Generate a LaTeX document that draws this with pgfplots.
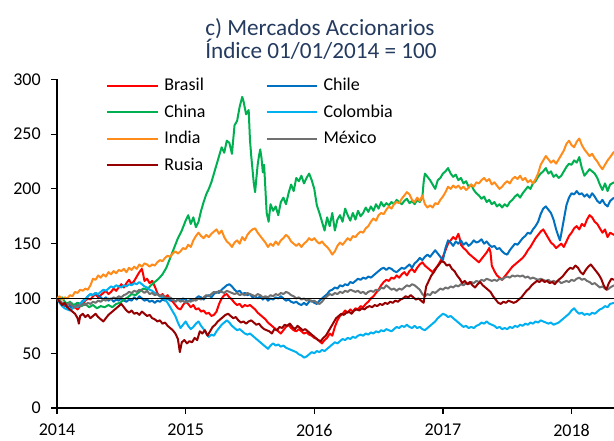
\documentclass[border=0pt]{standalone}
\usepackage{pgfplots}
\usepackage{pgfplotstable}
\pgfplotsset{compat=1.18}
\usepackage{fontspec}
\setmainfont{Carlito}
\definecolor{cBrasil}{HTML}{FF0000}
\definecolor{cChile}{HTML}{0070C0}
\definecolor{cChina}{HTML}{00B050}
\definecolor{cColombia}{HTML}{00B0F0}
\definecolor{cIndia}{HTML}{FF8C1A}
\definecolor{cMexico}{HTML}{707070}
\definecolor{cRusia}{HTML}{960000}
\definecolor{cTitle}{HTML}{243A5E}

\pgfplotstableread{
x y
2014.00 100
2014.02 97
2014.04 95
2014.06 93
2014.08 96
2014.10 94
2014.12 91
2014.14 92
2014.16 90
2014.18 93
2014.20 95
2014.22 98
2014.24 100
2014.26 99
2014.28 102
2014.30 104
2014.32 101
2014.34 103
2014.36 105
2014.38 107
2014.40 104
2014.42 106
2014.44 109
2014.46 107
2014.48 110
2014.50 113
2014.52 110
2014.54 114
2014.56 117
2014.58 113
2014.60 116
2014.62 120
2014.64 124
2014.66 127
2014.67 122
2014.68 116
2014.70 118
2014.72 114
2014.74 116
2014.76 111
2014.78 105
2014.80 102
2014.82 104
2014.84 101
2014.86 103
2014.88 99
2014.90 97
2014.92 94
2014.94 91
2014.96 90
2014.98 94
2015.00 97
2015.02 95
2015.04 92
2015.06 94
2015.08 90
2015.10 91
2015.12 88
2015.14 89
2015.16 86
2015.18 87
2015.20 84
2015.22 85
2015.24 88
2015.26 95
2015.28 100
2015.30 103
2015.32 104
2015.34 101
2015.36 99
2015.38 96
2015.40 94
2015.42 95
2015.44 92
2015.46 94
2015.48 93
2015.50 94
2015.52 92
2015.54 90
2015.56 87
2015.58 85
2015.60 83
2015.62 81
2015.64 78
2015.66 76
2015.68 74
2015.70 72
2015.72 70
2015.74 68
2015.76 71
2015.78 74
2015.80 76
2015.82 73
2015.84 71
2015.86 70
2015.88 72
2015.90 70
2015.92 68
2015.94 69
2015.96 67
2015.98 66
2016.00 64
2016.02 63
2016.04 61
2016.06 59
2016.08 62
2016.10 64
2016.12 68
2016.14 66
2016.16 74
2016.18 80
2016.20 84
2016.22 86
2016.24 89
2016.26 87
2016.28 90
2016.30 88
2016.32 91
2016.34 90
2016.36 93
2016.38 92
2016.40 95
2016.42 97
2016.44 100
2016.46 102
2016.48 105
2016.50 108
2016.52 112
2016.54 115
2016.56 117
2016.58 116
2016.60 119
2016.62 118
2016.64 121
2016.66 119
2016.68 122
2016.70 124
2016.72 121
2016.74 125
2016.76 127
2016.78 124
2016.80 128
2016.82 131
2016.84 133
2016.86 130
2016.88 128
2016.90 126
2016.92 124
2016.94 127
2016.96 130
2016.98 134
2017.00 138
2017.02 144
2017.04 150
2017.06 153
2017.08 156
2017.10 154
2017.12 159
2017.13 155
2017.14 149
2017.16 146
2017.18 144
2017.20 141
2017.22 139
2017.24 137
2017.26 135
2017.28 133
2017.30 136
2017.32 139
2017.34 142
2017.36 146
2017.37 142
2017.38 130
2017.40 125
2017.42 121
2017.44 119
2017.46 117
2017.48 120
2017.50 123
2017.52 126
2017.54 129
2017.56 131
2017.58 133
2017.60 135
2017.62 137
2017.64 140
2017.66 144
2017.68 147
2017.70 151
2017.72 155
2017.74 158
2017.76 161
2017.78 163
2017.80 159
2017.82 155
2017.84 151
2017.86 149
2017.88 146
2017.90 148
2017.92 150
2017.94 147
2017.96 152
2017.98 157
2018.00 160
2018.02 164
2018.04 166
2018.06 163
2018.08 168
2018.10 166
2018.12 172
2018.14 176
2018.16 174
2018.18 170
2018.20 168
2018.22 164
2018.24 160
2018.26 163
2018.28 156
2018.30 160
2018.33 158
}\Brasil

\pgfplotstableread{
x y
2014.00 100
2014.02 98
2014.04 96
2014.06 94
2014.08 92
2014.10 93
2014.12 91
2014.14 94
2014.16 96
2014.18 95
2014.20 98
2014.22 99
2014.24 102
2014.26 104
2014.28 103
2014.30 105
2014.32 103
2014.34 101
2014.36 99
2014.38 101
2014.40 98
2014.42 100
2014.44 97
2014.46 99
2014.48 98
2014.50 100
2014.52 98
2014.54 97
2014.56 99
2014.58 98
2014.60 101
2014.62 99
2014.64 102
2014.66 100
2014.68 98
2014.70 99
2014.72 97
2014.74 98
2014.76 96
2014.78 98
2014.80 97
2014.82 99
2014.84 98
2014.86 100
2014.88 98
2014.90 99
2014.92 97
2014.94 99
2014.96 98
2014.98 100
2015.00 99
2015.02 97
2015.04 99
2015.06 98
2015.08 100
2015.10 102
2015.12 101
2015.14 99
2015.16 102
2015.18 103
2015.20 101
2015.22 104
2015.24 106
2015.26 105
2015.28 108
2015.30 110
2015.32 112
2015.34 113
2015.36 111
2015.38 108
2015.40 106
2015.42 107
2015.44 104
2015.46 105
2015.48 103
2015.50 104
2015.52 101
2015.54 102
2015.56 100
2015.58 102
2015.60 99
2015.62 101
2015.64 98
2015.66 100
2015.68 99
2015.70 101
2015.72 100
2015.74 102
2015.76 100
2015.78 98
2015.80 99
2015.82 97
2015.84 96
2015.86 97
2015.88 95
2015.90 94
2015.92 96
2015.94 94
2015.96 97
2015.98 98
2016.00 96
2016.02 95
2016.04 98
2016.06 100
2016.08 102
2016.10 104
2016.12 107
2016.14 108
2016.16 110
2016.18 109
2016.20 112
2016.22 111
2016.24 113
2016.26 112
2016.28 115
2016.30 114
2016.32 116
2016.34 118
2016.36 117
2016.38 119
2016.40 118
2016.42 120
2016.44 119
2016.46 121
2016.48 123
2016.50 125
2016.52 127
2016.54 128
2016.56 126
2016.58 128
2016.60 127
2016.62 125
2016.64 124
2016.66 126
2016.68 128
2016.70 127
2016.72 129
2016.74 131
2016.76 128
2016.78 132
2016.80 134
2016.82 137
2016.84 135
2016.86 138
2016.88 140
2016.90 138
2016.92 141
2016.94 144
2016.96 141
2016.98 138
2017.00 135
2017.02 146
2017.04 153
2017.06 151
2017.08 148
2017.10 152
2017.12 150
2017.14 153
2017.16 149
2017.18 151
2017.20 148
2017.22 150
2017.24 153
2017.26 151
2017.28 152
2017.30 154
2017.32 150
2017.34 152
2017.36 149
2017.38 147
2017.40 148
2017.42 145
2017.44 146
2017.46 143
2017.48 141
2017.50 140
2017.52 144
2017.54 147
2017.56 150
2017.58 149
2017.60 152
2017.62 155
2017.64 157
2017.66 160
2017.68 159
2017.70 163
2017.72 166
2017.74 170
2017.76 177
2017.78 182
2017.80 184
2017.82 181
2017.84 178
2017.86 172
2017.88 163
2017.90 156
2017.91 153
2017.92 159
2017.94 172
2017.96 185
2017.98 192
2018.00 196
2018.02 195
2018.04 198
2018.06 195
2018.08 196
2018.10 193
2018.12 195
2018.14 192
2018.16 196
2018.18 193
2018.20 189
2018.22 187
2018.24 190
2018.26 186
2018.28 184
2018.30 189
2018.33 192
}\Chile

\pgfplotstableread{
x y
2014.00 100
2014.02 98
2014.04 101
2014.06 97
2014.08 95
2014.10 97
2014.13 94
2014.16 96
2014.19 93
2014.22 95
2014.25 92
2014.28 94
2014.31 91
2014.34 93
2014.37 92
2014.40 94
2014.43 92
2014.46 95
2014.49 96
2014.52 99
2014.55 101
2014.58 104
2014.61 103
2014.64 106
2014.67 109
2014.70 108
2014.73 112
2014.76 115
2014.79 118
2014.82 122
2014.85 128
2014.88 137
2014.91 146
2014.94 155
2014.97 162
2015.00 171
2015.02 176
2015.04 168
2015.06 174
2015.08 165
2015.10 170
2015.12 180
2015.14 188
2015.16 195
2015.18 200
2015.20 206
2015.22 214
2015.24 222
2015.26 230
2015.28 238
2015.30 233
2015.32 244
2015.34 242
2015.36 232
2015.38 258
2015.40 262
2015.42 275
2015.44 284
2015.45 280
2015.47 268
2015.49 272
2015.50 245
2015.51 230
2015.53 205
2015.54 197
2015.55 210
2015.56 222
2015.57 230
2015.58 236
2015.59 228
2015.60 215
2015.61 222
2015.62 200
2015.63 178
2015.645 170
2015.66 186
2015.68 180
2015.70 184
2015.72 176
2015.74 188
2015.76 192
2015.78 186
2015.80 196
2015.82 204
2015.84 198
2015.86 210
2015.88 207
2015.90 212
2015.92 205
2015.94 210
2015.96 214
2015.98 208
2016.00 200
2016.02 185
2016.04 178
2016.06 170
2016.08 162
2016.10 174
2016.12 166
2016.14 178
2016.16 162
2016.18 172
2016.20 176
2016.22 170
2016.24 182
2016.26 176
2016.28 171
2016.30 178
2016.32 172
2016.34 180
2016.36 175
2016.38 178
2016.40 183
2016.42 179
2016.44 184
2016.46 180
2016.48 186
2016.50 182
2016.52 188
2016.54 184
2016.56 187
2016.58 185
2016.60 188
2016.62 186
2016.64 190
2016.66 188
2016.68 186
2016.70 189
2016.72 191
2016.74 187
2016.76 189
2016.78 186
2016.80 190
2016.82 188
2016.84 192
2016.85 206
2016.86 214
2016.88 211
2016.90 208
2016.92 204
2016.94 200
2016.96 208
2016.98 210
2017.00 214
2017.02 216
2017.04 219
2017.06 214
2017.08 211
2017.10 213
2017.12 208
2017.14 210
2017.16 205
2017.18 207
2017.20 202
2017.22 204
2017.24 199
2017.26 196
2017.28 194
2017.30 191
2017.32 193
2017.34 188
2017.36 190
2017.38 186
2017.40 188
2017.42 184
2017.44 186
2017.46 183
2017.48 186
2017.50 184
2017.52 188
2017.54 190
2017.56 193
2017.58 195
2017.60 192
2017.62 196
2017.64 199
2017.66 202
2017.68 200
2017.70 205
2017.72 207
2017.74 211
2017.76 214
2017.78 216
2017.80 219
2017.82 214
2017.84 216
2017.86 211
2017.88 213
2017.90 210
2017.92 212
2017.94 216
2017.96 220
2017.98 223
2018.00 222
2018.02 226
2018.04 224
2018.06 229
2018.08 219
2018.10 212
2018.12 215
2018.14 218
2018.16 216
2018.18 214
2018.20 210
2018.22 204
2018.24 199
2018.26 205
2018.28 198
2018.30 204
2018.33 206
}\China

\pgfplotstableread{
x y
2014.00 100
2014.02 96
2014.04 93
2014.06 91
2014.08 90
2014.10 89
2014.12 91
2014.14 93
2014.16 92
2014.18 95
2014.20 97
2014.22 99
2014.24 102
2014.26 104
2014.28 103
2014.30 105
2014.32 104
2014.34 106
2014.36 108
2014.38 107
2014.40 109
2014.42 111
2014.44 110
2014.46 112
2014.48 111
2014.50 110
2014.52 112
2014.54 111
2014.56 113
2014.58 112
2014.60 114
2014.62 113
2014.64 115
2014.66 113
2014.68 111
2014.70 110
2014.72 108
2014.74 107
2014.76 105
2014.78 104
2014.80 102
2014.82 101
2014.84 99
2014.86 96
2014.88 92
2014.90 88
2014.92 84
2014.94 78
2014.96 73
2014.98 76
2015.00 79
2015.02 75
2015.04 72
2015.06 74
2015.08 77
2015.10 79
2015.12 75
2015.14 72
2015.16 68
2015.18 65
2015.20 67
2015.22 66
2015.24 70
2015.26 73
2015.28 76
2015.30 78
2015.32 80
2015.34 78
2015.36 75
2015.38 73
2015.40 71
2015.42 72
2015.44 70
2015.46 68
2015.48 67
2015.50 68
2015.52 66
2015.54 64
2015.56 62
2015.58 60
2015.60 58
2015.62 56
2015.64 54
2015.66 57
2015.68 59
2015.70 57
2015.72 58
2015.74 56
2015.76 57
2015.78 55
2015.80 54
2015.82 53
2015.84 52
2015.86 51
2015.88 49
2015.90 48
2015.92 46
2015.94 47
2015.96 49
2015.98 51
2016.00 50
2016.02 52
2016.04 51
2016.06 53
2016.08 52
2016.10 54
2016.12 56
2016.14 58
2016.16 60
2016.18 59
2016.20 61
2016.22 63
2016.24 62
2016.26 64
2016.28 63
2016.30 65
2016.32 64
2016.34 66
2016.36 67
2016.38 66
2016.40 68
2016.42 67
2016.44 69
2016.46 68
2016.48 70
2016.50 69
2016.52 71
2016.54 70
2016.56 72
2016.58 71
2016.60 70
2016.62 72
2016.64 74
2016.66 73
2016.68 75
2016.70 74
2016.72 76
2016.74 74
2016.76 73
2016.78 75
2016.80 73
2016.82 74
2016.84 72
2016.86 71
2016.88 73
2016.90 75
2016.92 77
2016.94 79
2016.96 82
2016.98 84
2017.00 86
2017.02 85
2017.04 83
2017.06 84
2017.08 82
2017.10 80
2017.12 78
2017.14 76
2017.16 74
2017.18 75
2017.20 73
2017.22 74
2017.24 73
2017.26 75
2017.28 76
2017.30 78
2017.32 77
2017.34 79
2017.36 77
2017.38 76
2017.40 75
2017.42 73
2017.44 74
2017.46 72
2017.48 73
2017.50 72
2017.52 74
2017.54 73
2017.56 75
2017.58 74
2017.60 76
2017.62 75
2017.64 77
2017.66 76
2017.68 78
2017.70 77
2017.72 79
2017.74 78
2017.76 80
2017.78 79
2017.80 78
2017.82 77
2017.84 78
2017.86 76
2017.88 77
2017.90 78
2017.92 80
2017.94 82
2017.96 84
2017.98 86
2018.00 89
2018.02 91
2018.04 88
2018.06 86
2018.08 87
2018.10 85
2018.12 86
2018.14 85
2018.16 87
2018.18 86
2018.20 88
2018.22 90
2018.24 91
2018.26 93
2018.28 92
2018.30 95
2018.33 96
}\Colombia

\pgfplotstableread{
x y
2014.00 100
2014.02 102
2014.04 99
2014.06 101
2014.08 100
2014.10 103
2014.12 102
2014.14 106
2014.16 105
2014.18 108
2014.20 107
2014.22 109
2014.24 108
2014.26 112
2014.28 118
2014.30 117
2014.32 121
2014.34 119
2014.36 122
2014.38 120
2014.40 124
2014.42 122
2014.44 125
2014.46 123
2014.48 126
2014.50 125
2014.52 127
2014.54 124
2014.56 128
2014.58 126
2014.60 129
2014.62 127
2014.64 131
2014.66 129
2014.68 132
2014.70 131
2014.72 129
2014.74 131
2014.76 130
2014.78 133
2014.80 135
2014.82 134
2014.84 137
2014.86 139
2014.88 138
2014.90 141
2014.92 143
2014.94 141
2014.96 143
2014.98 146
2015.00 145
2015.02 149
2015.04 147
2015.06 153
2015.08 157
2015.10 160
2015.12 157
2015.14 155
2015.16 158
2015.18 156
2015.20 159
2015.22 161
2015.24 163
2015.26 159
2015.28 162
2015.30 156
2015.32 152
2015.34 150
2015.36 147
2015.38 151
2015.40 153
2015.42 150
2015.44 156
2015.46 153
2015.48 158
2015.50 161
2015.52 163
2015.54 164
2015.56 160
2015.58 157
2015.60 154
2015.62 151
2015.64 147
2015.66 150
2015.68 148
2015.70 152
2015.72 149
2015.74 153
2015.76 155
2015.78 158
2015.80 156
2015.82 152
2015.84 150
2015.86 148
2015.88 150
2015.90 147
2015.92 150
2015.94 152
2015.96 155
2015.98 153
2016.00 155
2016.02 152
2016.04 150
2016.06 152
2016.08 149
2016.10 147
2016.12 144
2016.14 140
2016.16 143
2016.18 148
2016.20 151
2016.22 149
2016.24 152
2016.26 155
2016.28 153
2016.30 157
2016.32 156
2016.34 159
2016.36 161
2016.38 160
2016.40 164
2016.42 166
2016.44 170
2016.46 173
2016.48 171
2016.50 176
2016.52 178
2016.54 177
2016.56 181
2016.58 184
2016.60 182
2016.62 186
2016.64 188
2016.66 187
2016.68 191
2016.70 194
2016.72 197
2016.74 195
2016.76 190
2016.78 188
2016.80 192
2016.82 189
2016.84 194
2016.86 186
2016.88 183
2016.90 185
2016.92 183
2016.94 187
2016.96 186
2016.98 190
2017.00 193
2017.02 197
2017.04 202
2017.06 200
2017.08 203
2017.10 201
2017.12 203
2017.14 200
2017.16 202
2017.18 199
2017.20 201
2017.22 204
2017.24 202
2017.26 206
2017.28 205
2017.30 208
2017.32 210
2017.34 207
2017.36 209
2017.38 204
2017.40 206
2017.42 203
2017.44 200
2017.46 202
2017.48 205
2017.50 207
2017.52 205
2017.54 209
2017.56 211
2017.58 209
2017.60 212
2017.62 208
2017.64 210
2017.66 206
2017.68 208
2017.70 205
2017.72 209
2017.74 214
2017.76 222
2017.78 226
2017.80 230
2017.82 227
2017.84 224
2017.86 226
2017.88 223
2017.90 227
2017.92 231
2017.94 235
2017.96 241
2017.98 244
2018.00 240
2018.02 238
2018.04 243
2018.06 246
2018.08 240
2018.10 236
2018.12 233
2018.14 230
2018.16 232
2018.18 228
2018.20 225
2018.22 221
2018.24 218
2018.26 222
2018.28 226
2018.30 229
2018.33 234
}\India

\pgfplotstableread{
x y
2014.00 100
2014.02 98
2014.04 96
2014.06 95
2014.08 94
2014.10 96
2014.12 93
2014.14 92
2014.16 94
2014.18 93
2014.20 95
2014.22 94
2014.24 96
2014.26 95
2014.28 97
2014.30 96
2014.32 98
2014.34 97
2014.36 99
2014.38 98
2014.40 100
2014.42 99
2014.44 101
2014.46 100
2014.48 102
2014.50 101
2014.52 103
2014.54 104
2014.56 106
2014.58 105
2014.60 107
2014.62 106
2014.64 108
2014.66 107
2014.68 105
2014.70 107
2014.72 104
2014.74 105
2014.76 103
2014.78 104
2014.80 102
2014.82 103
2014.84 101
2014.86 100
2014.88 101
2014.90 99
2014.92 97
2014.94 99
2014.96 97
2014.98 98
2015.00 96
2015.02 98
2015.04 97
2015.06 99
2015.08 98
2015.10 100
2015.12 99
2015.14 101
2015.16 103
2015.18 102
2015.20 104
2015.22 106
2015.24 105
2015.26 107
2015.28 106
2015.30 105
2015.32 107
2015.34 106
2015.36 105
2015.38 104
2015.40 105
2015.42 103
2015.44 104
2015.46 103
2015.48 105
2015.50 104
2015.52 103
2015.54 102
2015.56 104
2015.58 103
2015.60 101
2015.62 102
2015.64 101
2015.66 103
2015.68 102
2015.70 104
2015.72 103
2015.74 105
2015.76 104
2015.78 106
2015.80 105
2015.82 103
2015.84 102
2015.86 100
2015.88 101
2015.90 99
2015.92 100
2015.94 98
2015.96 99
2015.98 97
2016.00 98
2016.02 96
2016.04 95
2016.06 97
2016.08 100
2016.10 102
2016.12 104
2016.14 103
2016.16 105
2016.18 104
2016.20 106
2016.22 105
2016.24 107
2016.26 106
2016.28 108
2016.30 107
2016.32 106
2016.34 107
2016.36 105
2016.38 106
2016.40 104
2016.42 106
2016.44 107
2016.46 106
2016.48 108
2016.50 107
2016.52 110
2016.54 109
2016.56 112
2016.58 110
2016.60 108
2016.62 109
2016.64 107
2016.66 109
2016.68 108
2016.70 110
2016.72 112
2016.74 111
2016.76 113
2016.78 112
2016.80 110
2016.82 108
2016.84 104
2016.86 102
2016.88 104
2016.90 103
2016.92 106
2016.94 105
2016.96 107
2016.98 109
2017.00 108
2017.02 110
2017.04 109
2017.06 111
2017.08 110
2017.10 112
2017.12 111
2017.14 113
2017.16 112
2017.18 114
2017.20 113
2017.22 115
2017.24 114
2017.26 116
2017.28 115
2017.30 117
2017.32 116
2017.34 118
2017.36 117
2017.38 116
2017.40 117
2017.42 116
2017.44 118
2017.46 117
2017.48 119
2017.50 120
2017.52 119
2017.54 121
2017.56 120
2017.58 121
2017.60 120
2017.62 121
2017.64 119
2017.66 120
2017.68 118
2017.70 119
2017.72 118
2017.74 117
2017.76 118
2017.78 117
2017.80 116
2017.82 117
2017.84 115
2017.86 116
2017.88 115
2017.90 116
2017.92 114
2017.94 115
2017.96 116
2017.98 115
2018.00 117
2018.02 116
2018.04 118
2018.06 119
2018.08 117
2018.10 118
2018.12 116
2018.14 115
2018.16 113
2018.18 114
2018.20 112
2018.22 110
2018.24 111
2018.26 109
2018.28 108
2018.30 110
2018.33 112
}\Mexico

\pgfplotstableread{
x y
2014.00 100
2014.02 97
2014.04 94
2014.06 96
2014.08 92
2014.10 90
2014.12 88
2014.14 86
2014.16 82
2014.17 77
2014.18 84
2014.20 86
2014.22 83
2014.24 85
2014.26 82
2014.28 84
2014.30 86
2014.32 83
2014.34 81
2014.36 79
2014.38 82
2014.40 85
2014.42 87
2014.44 89
2014.46 91
2014.48 93
2014.50 95
2014.52 92
2014.54 89
2014.56 87
2014.58 89
2014.60 86
2014.62 87
2014.64 85
2014.66 88
2014.68 86
2014.70 84
2014.72 85
2014.74 82
2014.76 81
2014.78 79
2014.80 80
2014.82 77
2014.84 78
2014.86 75
2014.88 73
2014.90 71
2014.92 68
2014.94 63
2014.955 51
2014.97 60
2014.99 62
2015.01 59
2015.03 61
2015.05 60
2015.07 64
2015.09 62
2015.11 70
2015.13 68
2015.15 71
2015.17 66
2015.19 70
2015.21 74
2015.23 76
2015.25 79
2015.27 81
2015.29 83
2015.31 85
2015.33 86
2015.35 84
2015.37 82
2015.39 83
2015.41 80
2015.43 78
2015.45 79
2015.47 77
2015.49 79
2015.51 80
2015.53 78
2015.55 76
2015.57 77
2015.59 74
2015.61 72
2015.63 71
2015.65 70
2015.67 68
2015.69 72
2015.71 71
2015.73 74
2015.75 73
2015.77 76
2015.79 75
2015.81 77
2015.83 74
2015.85 72
2015.87 75
2015.89 73
2015.91 71
2015.93 72
2015.95 70
2015.97 68
2015.99 66
2016.01 64
2016.03 62
2016.05 61
2016.07 64
2016.09 66
2016.11 70
2016.13 74
2016.15 78
2016.17 82
2016.19 84
2016.21 86
2016.23 85
2016.25 87
2016.27 88
2016.29 86
2016.31 89
2016.33 90
2016.35 89
2016.37 91
2016.39 90
2016.41 92
2016.43 93
2016.45 92
2016.47 94
2016.49 93
2016.51 95
2016.53 94
2016.55 96
2016.57 95
2016.59 97
2016.61 96
2016.63 98
2016.65 97
2016.67 99
2016.69 100
2016.71 102
2016.73 101
2016.75 103
2016.77 101
2016.79 99
2016.81 100
2016.83 98
2016.85 96
2016.86 104
2016.87 111
2016.89 116
2016.91 121
2016.93 124
2016.95 128
2016.97 131
2016.99 134
2017.01 133
2017.03 130
2017.05 131
2017.07 127
2017.09 125
2017.11 121
2017.13 118
2017.15 114
2017.17 116
2017.19 113
2017.21 115
2017.23 112
2017.25 110
2017.27 113
2017.29 115
2017.31 112
2017.33 110
2017.35 108
2017.37 106
2017.39 102
2017.41 99
2017.43 96
2017.45 95
2017.47 97
2017.49 96
2017.51 98
2017.53 97
2017.55 96
2017.57 97
2017.59 99
2017.61 101
2017.63 104
2017.65 107
2017.67 109
2017.69 112
2017.71 114
2017.73 116
2017.75 115
2017.77 117
2017.79 115
2017.81 116
2017.83 114
2017.85 115
2017.87 113
2017.89 116
2017.91 118
2017.93 120
2017.95 123
2017.97 126
2017.99 128
2018.01 127
2018.03 130
2018.05 128
2018.07 124
2018.09 122
2018.11 126
2018.13 129
2018.15 131
2018.17 128
2018.19 125
2018.21 122
2018.23 118
2018.25 112
2018.27 108
2018.29 114
2018.31 118
2018.33 117
}\Rusia

\begin{document}
\begin{tikzpicture}
\useasboundingbox (-42.75pt,-24pt) rectangle (417.75pt,306pt);
\begin{axis}[
  at={(0,0)}, anchor=south west,
  scale only axis,
  width=417.75pt, height=246.5pt,
  xmin=2014, xmax=2018.33,
  ymin=0, ymax=300,
  xtick={2014,2015,2016,2017,2018},
  ytick={0,50,100,150,200,250,300},
  axis x line*=bottom, axis y line*=left,
  axis line style={line width=1pt, black},
  tick style={line width=0.9pt, black},
  major tick length=4.2pt,
  tick align=outside,
  xticklabel style={/pgf/number format/1000 sep={}, inner sep=0pt, yshift=-7.6pt},
  yticklabel style={xshift=-4.5pt},
  /pgf/number format/assume math mode=true,
  tick label style={font=\fontsize{13.5}{15}\selectfont, black},
  clip=true,
  legend columns=2,
  legend cell align=left,
  legend style={at={(rel axis cs:0.088,1.012)}, anchor=north west, draw=none, fill=none,
    font=\fontsize{13.5}{15}\selectfont, row sep=5pt, inner sep=0pt,
    /tikz/every odd column/.append style={column sep=2pt},
    /tikz/every even column/.append style={column sep=43pt}},
  legend image code/.code={\draw[#1, line width=1.5pt] (0pt,0pt) -- (38pt,0pt);},
  every axis plot/.append style={line width=1.5pt, line join=round},
]
\addplot[color=cBrasil] table {\Brasil}; \addlegendentry{Brasil}
\addplot[color=cChile] table {\Chile}; \addlegendentry{Chile}
\addplot[color=cChina] table {\China}; \addlegendentry{China}
\addplot[color=cColombia] table {\Colombia}; \addlegendentry{Colombia}
\addplot[color=cIndia] table {\India}; \addlegendentry{India}
\addplot[color=cMexico] table {\Mexico}; \addlegendentry{M\'exico}
\addplot[color=cRusia] table {\Rusia}; \addlegendentry{Rusia}
\addplot[black, line width=1.2pt, forget plot] coordinates {(2014,100) (2018.33,100)};
\end{axis}
\node[anchor=base west, inner sep=0pt, text=cTitle, font=\fontsize{17.4}{20}\selectfont] at (111pt,279.2pt) {c) Mercados Accionarios};
\node[anchor=base west, inner sep=0pt, text=cTitle, font=\fontsize{17.4}{20}\selectfont] at (111pt,262.3pt) {\'Indice 01/01/2014 = 100};
\end{tikzpicture}
\end{document}
